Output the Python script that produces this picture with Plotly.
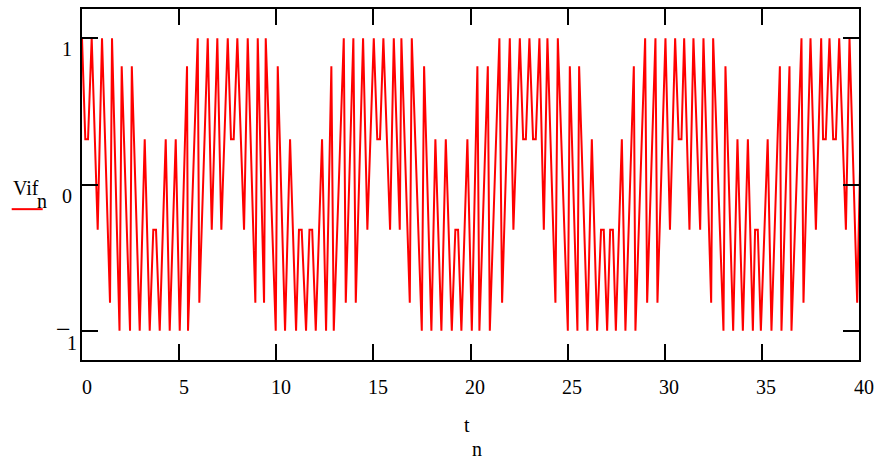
import plotly.graph_objects as go

# ---- data (vertices of the trace) ----
t_n = [0, 0.17, 0.31, 0.499, 0.808, 1.030, 1.442, 1.545, 1.931, 2.044, 2.472, 2.564, 2.971,
       3.229, 3.486, 3.67, 3.81, 4.001, 4.310, 4.516, 4.825, 5.031, 5.407, 5.458, 5.958,
       6.040, 6.473, 6.679, 6.967, 7.173, 7.503, 7.67, 7.81, 7.997, 8.342, 8.532, 8.924,
       9.047, 9.372, 9.459, 9.974, 10.077, 10.453, 10.711, 11.020, 11.17, 11.31, 11.534,
       11.71, 11.85, 12.034, 12.358, 12.564, 12.837, 12.961, 13.476, 13.579, 13.970, 14.094,
       14.470, 14.691, 15.021, 15.20, 15.34, 15.515, 15.860, 16.051, 16.359, 16.442, 16.874,
       16.977, 17.492, 17.611, 17.987, 18.192, 18.502, 18.728, 19.037, 19.22, 19.36, 19.531,
       19.840, 20.067, 20.355, 20.458, 20.891, 20.994, 21.488, 21.627, 22.023, 22.209, 22.539,
       22.71, 22.85, 23.033, 23.22, 23.36, 23.548, 23.774, 23.960, 24.372, 24.495, 25.010,
       25.113, 25.505, 25.592, 26.020, 26.246, 26.519, 26.72, 26.86, 27.034, 27.19, 27.33,
       27.482, 27.791, 27.976, 28.408, 28.491, 28.991, 29.094, 29.521, 29.624, 30.036, 30.268,
       30.535, 30.72, 30.86, 30.999, 31.272, 31.477, 31.823, 31.993, 32.389, 32.492, 33.022,
       33.125, 33.522, 33.743, 34.021, 34.279, 34.536, 34.65, 34.79, 34.948, 35.299, 35.494,
       35.927, 36.009, 36.421, 36.524, 37.039, 37.142, 37.503, 37.780, 38.053, 38.15, 38.29,
       38.481, 38.67, 38.81, 38.980, 39.325, 39.511, 39.907, 40.164]

vif_n = [1, 0.309, 0.309, 1, -0.309, 1, -0.809, 1, -1, 0.809, -1, 0.809, -1,
         0.309, -1, -0.309, -0.309, -1, 0.309, -1, 0.309, -1, 0.809, -1, 1,
         -0.809, 1, -0.309, 1, -0.309, 1, 0.309, 0.309, 1, -0.309, 1, -0.809,
         1, -0.809, 1, -1, 0.809, -1, 0.309, -1, -0.309, -0.309, -1,
         -0.309, -0.309, -1, 0.309, -1, 0.809, -1, 1, -0.809, 1, -0.809,
         1, -0.309, 1, 0.309, 0.309, 1, -0.309, 1, -0.309, 1, -0.809,
         1, -1, 0.809, -1, 0.309, -1, 0.309, -1, -0.309, -0.309, -1,
         0.309, -1, 0.809, -1, 0.809, -1, 1, -0.809, 1, -0.309, 1,
         0.309, 0.309, 1, 0.309, 0.309, 1, -0.309, 1, -0.809, 1, -1,
         0.809, -1, 0.809, -1, 0.309, -1, -0.309, -0.309, -1, -0.309, -0.309,
         -1, 0.309, -1, 0.809, -1, 1, -0.809, 1, -0.809, 1, -0.309,
         1, 0.309, 0.309, 1, -0.309, 1, -0.309, 1, -0.809, 1, -1,
         0.809, -1, 0.309, -1, 0.309, -1, -0.309, -0.309, -1, 0.309, -1,
         0.809, -1, 0.809, -1, 1, -0.809, 1, -0.309, 1, 0.309, 0.309,
         1, 0.309, 0.309, 1, -0.309, 1, -0.809, 0.809]

x_tick_vals = [0, 5, 10, 15, 20, 25, 30, 35, 40]
x_tick_text = ["0", "5", "10", "15", "20", "25", "30", "35", "40"]
y_tick_vals = [-1, 0, 1]
y_tick_text = ["\u22121", "0", "1"]

x_title, x_sub = "t", "n"
y_title, y_sub = "Vif", "n"

# ---- layout constants (pixels) ----
W, H = 881, 459
L, R, T, B = 82, 859, 7, 360
FONT = "Liberation Serif, Times New Roman, serif"
FS = 20


def px(xp):
    return (xp - L) / (R - L)


def py(yp):
    return (B - yp) / (B - T)


fig = go.Figure()
fig.add_trace(go.Scatter(x=t_n, y=vif_n, mode="lines",
                         line=dict(color="#ff0000", width=2),
                         showlegend=False, hoverinfo="skip"))

axis_common = dict(showline=True, linecolor="black", linewidth=2, mirror="ticks",
                   ticks="inside", ticklen=16, tickwidth=2, tickcolor="black",
                   showgrid=False, zeroline=False, showticklabels=False)

fig.update_xaxes(range=[0, 40], tickvals=x_tick_vals[1:-1], **axis_common)
fig.update_yaxes(range=[-1.2, 1.2], tickvals=y_tick_vals, **axis_common)

ann = []
for v, s in zip(x_tick_vals, x_tick_text):
    ann.append(dict(x=v, y=0, xref="x", yref="paper", text=s, showarrow=False,
                    xanchor="center", yanchor="middle", xshift=4.5, yshift=-27,
                    font=dict(family=FONT, size=FS, color="black")))
for v, s in zip(y_tick_vals, y_tick_text):
    if s.startswith("\u2212"):
        ann.append(dict(x=0, y=v, xref="paper", yref="y", text=s[1:], showarrow=False,
                        xanchor="right", yanchor="middle", xshift=-3, yshift=-12,
                        font=dict(family=FONT, size=FS, color="black")))
        ann.append(dict(x=0, y=v, xref="paper", yref="y", text="\u2212", showarrow=False,
                        xanchor="center", yanchor="middle", xshift=-18.5, yshift=1,
                        font=dict(family=FONT, size=26, color="black")))
    else:
        ann.append(dict(x=0, y=v, xref="paper", yref="y", text=s, showarrow=False,
                        xanchor="right", yanchor="middle", xshift=-8, yshift=-11,
                        font=dict(family=FONT, size=FS, color="black")))

# axis titles (Mathcad style: full-size lowered subscripts)
ann.append(dict(x=px(467), y=py(425), xref="paper", yref="paper", text=x_title,
                showarrow=False, xanchor="center", yanchor="middle",
                font=dict(family=FONT, size=FS, color="black")))
ann.append(dict(x=px(476.5), y=py(450), xref="paper", yref="paper", text=x_sub,
                showarrow=False, xanchor="center", yanchor="middle",
                font=dict(family=FONT, size=FS, color="black")))
ann.append(dict(x=px(26), y=py(187), xref="paper", yref="paper", text=y_title,
                showarrow=False, xanchor="center", yanchor="middle",
                font=dict(family=FONT, size=FS, color="black")))
ann.append(dict(x=px(41.5), y=py(200), xref="paper", yref="paper", text=y_sub,
                showarrow=False, xanchor="center", yanchor="middle",
                font=dict(family=FONT, size=FS, color="black")))

shapes = [dict(type="line", xref="paper", yref="paper", x0=px(11.7), x1=px(42.7),
               y0=py(208.3), y1=py(208.3), line=dict(color="#ff0000", width=2))]

fig.update_layout(width=W, height=H, margin=dict(l=L, r=W - R, t=T, b=H - B, pad=0),
                  paper_bgcolor="white", plot_bgcolor="white",
                  annotations=ann, shapes=shapes)

fig.write_html("out.html", config={"displayModeBar": False, "staticPlot": True},
               post_script="document.body.style.margin='0px';document.body.style.overflow='hidden';")
